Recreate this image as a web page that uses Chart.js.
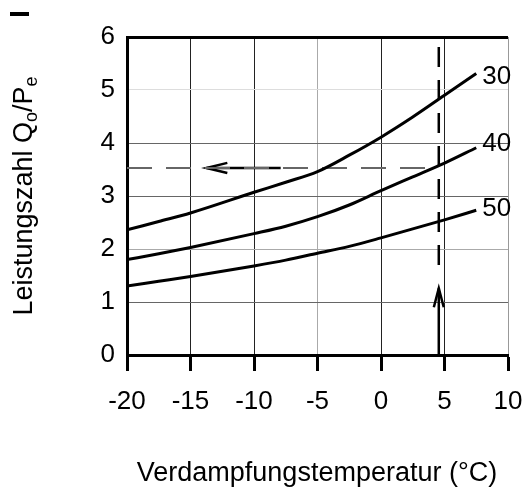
<!DOCTYPE html>
<html>
<head>
<meta charset="utf-8">
<script src="https://cdn.jsdelivr.net/npm/chart.js@4.4.0/dist/chart.umd.min.js"></script>
<style>
  html, body { margin: 0; padding: 0; background: #fff; }
  #wrap { width: 525px; height: 487px; }
</style>
</head>
<body>
<div id="wrap"><canvas id="chart" width="525" height="487"></canvas></div>
<script>
// Leistungszahl over Verdampfungstemperatur, for three condensing temperatures
const temps = [-20, -17.5, -15, -10, -7.5, -5, -2.5, 0, 2.5, 5, 7.5];
const cop30 = [2.36, 2.52, 2.68, 3.07, 3.26, 3.46, 3.77, 4.11, 4.49, 4.90, 5.31];
const cop40 = [1.80, 1.91, 2.03, 2.29, 2.43, 2.61, 2.83, 3.10, 3.36, 3.62, 3.91];
const cop50 = [1.30, 1.39, 1.48, 1.68, 1.79, 1.92, 2.05, 2.21, 2.38, 2.55, 2.73];
const seriesNames = ['30', '40', '50'];

const xTicks = [-20, -15, -10, -5, 0, 5, 10];
const yTicks = [0, 1, 2, 3, 4, 5, 6];

// reading example: 4.5 °C -> COP ~3.5 on the 40 curve
const hLineX = [-20, 4.55];
const hLineY = [3.53, 3.53];
const hArrowX = [-13.75, -7.9];
const hHeadX = [-12.1, -13.75, -12.1];
const hHeadY = [3.625, 3.53, 3.435];
const vLineX = [4.55, 4.55];
const vLineY = [5.81, 1.47];
const vArrowY = [1.26, 0];
const vHeadX = [4.16, 4.55, 4.94];
const vHeadY = [0.9, 1.26, 0.9];

const FONT = '"Liberation Sans", Arial, sans-serif';
const pts = (xs, ys) => xs.map((x, i) => ({ x: x, y: ys[i] }));

const curve = (label, ys) => ({
  label: label,
  data: pts(temps, ys),
  borderColor: '#000',
  borderWidth: 3,
  pointRadius: 0,
  cubicInterpolationMode: 'monotone',
  fill: false,
});
const guide = (data, opts) => Object.assign({
  data: data,
  borderColor: '#000',
  borderWidth: 2.5,
  pointRadius: 0,
  tension: 0,
  fill: false,
}, opts);

const labelShift = [3, -4, -1];

const annotate = {
  id: 'annotate',
  afterDatasetsDraw(chart) {
    const ctx = chart.ctx;
    ctx.save();
    ctx.fillStyle = '#000';
    ctx.font = '26px ' + FONT;
    ctx.textBaseline = 'middle';
    ctx.textAlign = 'left';
    for (let i = 0; i < 3; i++) {
      const meta = chart.getDatasetMeta(i);
      const last = meta.data[meta.data.length - 1];
      ctx.fillText(seriesNames[i], last.x + 6, last.y + labelShift[i]);
    }
    ctx.restore();
  },
  afterDraw(chart) {
    const ctx = chart.ctx;
    const area = chart.chartArea;
    ctx.save();
    ctx.fillStyle = '#000';
    // stray mark top left
    ctx.fillRect(10, 12, 19, 4);

    // x title
    ctx.font = '27px ' + FONT;
    ctx.textAlign = 'center';
    ctx.textBaseline = 'alphabetic';
    ctx.fillText('Verdampfungstemperatur (°C)', 317, 481);

    // y title with subscripts
    const parts = [
      ['Leistungszahl Q', false],
      ['o', true],
      ['/P', false],
      ['e', true],
    ];
    const big = '27px ' + FONT, small = '18px ' + FONT;
    let total = 0;
    parts.forEach(p => { ctx.font = p[1] ? small : big; total += ctx.measureText(p[0]).width; });
    ctx.translate(32, (area.top + area.bottom) / 2);
    ctx.rotate(-Math.PI / 2);
    ctx.textAlign = 'left';
    let x = -total / 2;
    parts.forEach(p => {
      ctx.font = p[1] ? small : big;
      ctx.fillText(p[0], x, p[1] ? 5 : 0);
      x += ctx.measureText(p[0]).width;
    });
    ctx.restore();
  }
};

const xGridColor = v => v === -20 ? '#000' : v === -5 ? '#aaa' : v === 10 ? '#999' : '#222';
const yGridColor = v => v === 6 ? '#000' : v === 5 ? '#ddd' : v === 2 ? '#aaa' : '#666';

new Chart(document.getElementById('chart'), {
  type: 'line',
  data: {
    datasets: [
      curve(seriesNames[0], cop30),
      curve(seriesNames[1], cop40),
      curve(seriesNames[2], cop50),
      guide(pts(hLineX, hLineY), { borderColor: '#666', borderWidth: 2, borderDash: [25, 14] }),
      guide(pts(hArrowX, hLineY)),
      guide(pts(hHeadX, hHeadY)),
      guide(pts(vLineX, vLineY), { borderDash: [20, 13] }),
      guide(pts(vLineX, vArrowY)),
      guide(pts(vHeadX, vHeadY)),
    ],
  },
  options: {
    responsive: false,
    animation: false,
    layout: { padding: { left: 0, top: 37, right: 17, bottom: 0 } },
    plugins: {
      legend: { display: false },
      tooltip: { enabled: false },
    },
    scales: {
      x: {
        type: 'linear',
        min: -20,
        max: 10,
        afterFit: s => { s.height = 132; s.paddingLeft = 0; s.paddingRight = 0; },
        afterBuildTicks: s => { s.ticks = xTicks.map(v => ({ value: v })); },
        ticks: {
          color: '#000',
          font: { family: FONT, size: 26 },
          padding: 15,
          maxRotation: 0,
          autoSkip: false,
        },
        grid: {
          color: c => xGridColor(c.tick.value),
          lineWidth: 1,
          drawTicks: true,
          tickLength: 16,
          tickWidth: 3,
          tickColor: '#000',
        },
        border: { color: '#000', width: 3 },
      },
      y: {
        min: 0,
        max: 6,
        afterFit: s => { s.width = 127; s.paddingTop = 0; s.paddingBottom = 0; },
        afterBuildTicks: s => { s.ticks = yTicks.map(v => ({ value: v })); },
        ticks: {
          color: '#000',
          font: { family: FONT, size: 26 },
          padding: 12,
        },
        grid: {
          color: c => yGridColor(c.tick.value),
          lineWidth: c => c.tick.value === 6 ? 3 : 1,
          drawTicks: false,
        },
        border: { color: '#000', width: 3 },
      },
    },
  },
  plugins: [annotate],
});
</script>
</body>
</html>
